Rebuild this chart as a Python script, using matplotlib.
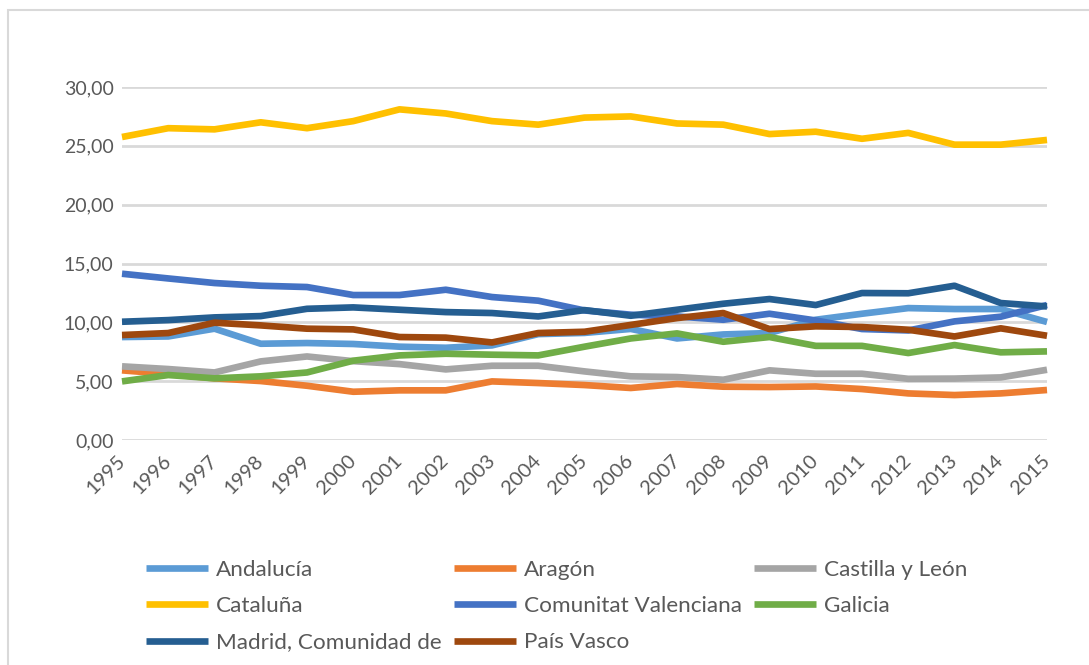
# evolución del peso de cada comunidad autónoma (1995-2015)
import matplotlib
matplotlib.use("Agg")
from matplotlib import pyplot as plt
from matplotlib.patches import Rectangle

years = list(range(1995, 2016))

andalucia = [8.75, 8.80, 9.46, 8.18, 8.24, 8.16, 7.93, 7.84, 8.04, 9.00, 9.10, 9.44, 8.63,
             8.97, 9.09, 10.22, 10.73, 11.21, 11.13, 11.13, 10.03]
aragon = [5.92, 5.61, 5.24, 5.01, 4.61, 4.10, 4.22, 4.22, 4.98, 4.84, 4.67, 4.42, 4.76,
          4.53, 4.50, 4.55, 4.33, 3.96, 3.82, 3.96, 4.25]
castilla_leon = [6.26, 6.03, 5.74, 6.68, 7.10, 6.70, 6.45, 6.00, 6.31, 6.31, 5.83, 5.41, 5.35,
                 5.12, 5.92, 5.63, 5.63, 5.20, 5.22, 5.32, 5.97]
cataluna = [25.75, 26.5, 26.4, 27.0, 26.5, 27.1, 28.1, 27.75, 27.1, 26.8, 27.4, 27.5, 26.9,
            26.8, 26.0, 26.2, 25.6, 26.1, 25.1, 25.1, 25.5]
valenciana = [14.13, 13.73, 13.34, 13.11, 13.0, 12.32, 12.32, 12.77, 12.15, 11.84, 11.01, 10.65,
              10.5, 10.22, 10.73, 10.16, 9.43, 9.31, 10.08, 10.48, 11.47]
galicia = [4.98, 5.52, 5.24, 5.41, 5.74, 6.74, 7.19, 7.33, 7.25, 7.19, 7.93, 8.63, 9.06,
           8.35, 8.75, 8.00, 8.00, 7.39, 8.07, 7.45, 7.53]
madrid = [10.05, 10.19, 10.42, 10.53, 11.15, 11.27, 11.07, 10.87, 10.79, 10.50, 11.04, 10.56,
          11.07, 11.58, 11.98, 11.47, 12.49, 12.47, 13.11, 11.64, 11.35]
pais_vasco = [8.92, 9.09, 9.97, 9.74, 9.46, 9.40, 8.75, 8.70, 8.29, 9.09, 9.20, 9.78, 10.36,
              10.79, 9.43, 9.66, 9.60, 9.37, 8.80, 9.49, 8.86]

series = [
    ("Andalucía", andalucia, "#5B9BD5"),
    ("Aragón", aragon, "#ED7D31"),
    ("Castilla y León", castilla_leon, "#A5A5A5"),
    ("Cataluña", cataluna, "#FFC000"),
    ("Comunitat Valenciana", valenciana, "#4472C4"),
    ("Galicia", galicia, "#70AD47"),
    ("Madrid, Comunidad de", madrid, "#255E91"),
    ("País Vasco", pais_vasco, "#9E480E"),
]

plt.rcParams['font.family'] = ['Lato', 'DejaVu Sans']
txt = "#595959"

fig = plt.figure(figsize=(10.89, 6.65), dpi=100)
fig.patches.append(Rectangle((8 / 1089, -0.1), 1.2, 1.1 - 10 / 665, transform=fig.transFigure,
                             fill=False, edgecolor="#D9D9D9", linewidth=1.5))
ax = fig.add_axes([122 / 1089, 1 - 440 / 665, 925 / 1089, 353 / 665])

lines = {}
for name, vals, col in series:
    ln, = ax.plot(years, vals, color=col, linewidth=4.8, label=name,
                  solid_joinstyle="round", solid_capstyle="butt", clip_on=False)
    lines[name] = ln

ax.set_xlim(1995, 2015)
ax.set_ylim(0, 30)
ax.set_yticks([0, 5, 10, 15, 20, 25, 30])
ax.set_yticklabels([f"{v:.2f}".replace(".", ",") for v in [0, 5, 10, 15, 20, 25, 30]])
ax.set_xticks(years)
ax.set_xticklabels([str(y) for y in years], rotation=45, ha="right", va="center",
                   rotation_mode="anchor", fontsize=14.5)
ax.tick_params(axis="both", length=0, labelcolor=txt)
ax.tick_params(axis="y", pad=6, labelsize=14)
ax.tick_params(axis="x", pad=13)
for s in ax.spines.values():
    s.set_visible(False)
ax.yaxis.grid(True, color="#D9D9D9", linewidth=2)
ax.set_axisbelow(True)

# orden por columnas para que la leyenda se lea por filas
order = ["Andalucía", "Cataluña", "Madrid, Comunidad de",
         "Aragón", "Comunitat Valenciana", "País Vasco",
         "Castilla y León", "Galicia"]
leg = fig.legend([lines[n] for n in order], order, ncol=3, loc="upper left",
                 bbox_to_anchor=(146 / 1089, 1 - 560 / 665), frameon=False,
                 fontsize=16.2, handlelength=2.75, handletextpad=0.36,
                 columnspacing=0.55, labelspacing=0.72, borderpad=0, borderaxespad=0)
for t in leg.get_texts():
    t.set_color(txt)

plt.savefig("out.png", dpi=100)
